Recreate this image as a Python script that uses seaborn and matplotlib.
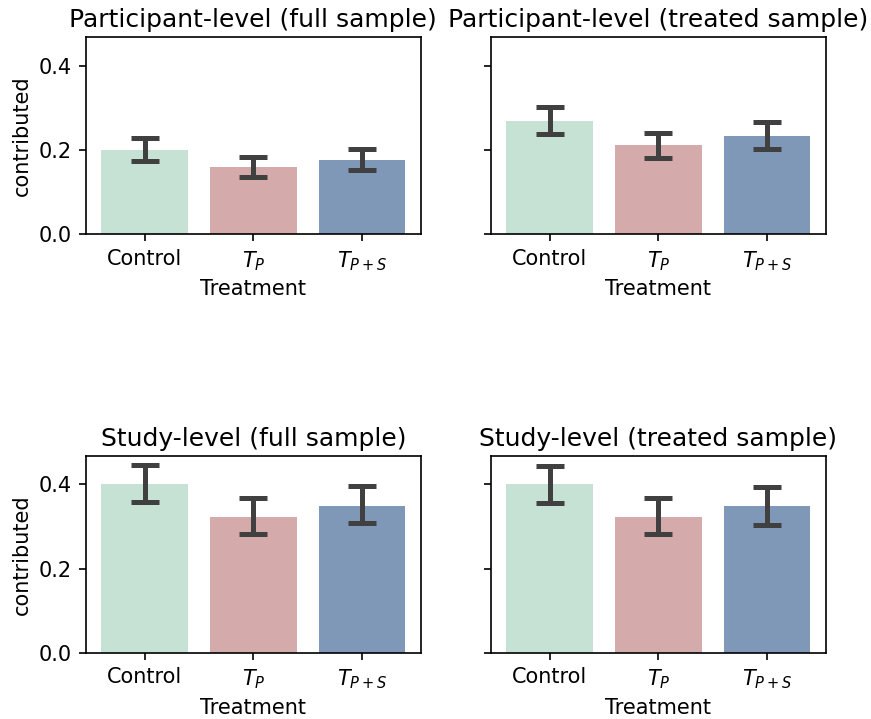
import matplotlib
matplotlib.use("Agg")
import matplotlib.pyplot as plt
import seaborn as sns
import numpy as np
import pandas as pd

plt.rcParams['font.family'] = ['DejaVu Sans']

categories = ["Control", "$T_P$", "$T_{P+S}$"]
colors = ["#c6e2d4", "#d4abaa", "#8098b8"]

titles = ["Participant-level (full sample)", "Participant-level (treated sample)",
          "Study-level (full sample)", "Study-level (treated sample)"]

means = [
    [0.201, 0.160, 0.176],
    [0.269, 0.211, 0.233],
    [0.400, 0.323, 0.349],
    [0.400, 0.323, 0.349],
]
err_low = [
    [0.173, 0.137, 0.153],
    [0.239, 0.182, 0.203],
    [0.359, 0.283, 0.309],
    [0.355, 0.283, 0.304],
]
err_high = [
    [0.229, 0.184, 0.203],
    [0.302, 0.240, 0.266],
    [0.446, 0.367, 0.395],
    [0.444, 0.368, 0.394],
]

DPI = 120
fig, axes = plt.subplots(2, 2, figsize=(871 / DPI, 719 / DPI), dpi=DPI, sharey=True)
fig.subplots_adjust(left=0.0987, right=0.948, top=0.9485, bottom=0.0918,
                    wspace=0.21, hspace=1.12)

for i, ax in enumerate(axes.flat):
    df = pd.DataFrame({"Treatment": categories, "contributed": means[i]})
    sns.barplot(data=df, x="Treatment", y="contributed", hue="Treatment",
                palette=colors, errorbar=None, ax=ax, legend=False,
                saturation=1, width=0.8)
    m = np.array(means[i])
    lo = m - np.array(err_low[i])
    hi = np.array(err_high[i]) - m
    ax.errorbar(np.arange(3), m, yerr=[lo, hi], fmt="none", ecolor="#404040",
                elinewidth=3.0, capsize=8.4, capthick=3.0, zorder=5)
    ax.set_title(titles[i], fontsize=15)
    ax.set_xlabel("Treatment", fontsize=12.5)
    ax.set_ylabel("contributed", fontsize=12.5)
    ax.tick_params(labelsize=12.5, length=4.2, width=1.0, pad=4.5)
    ax.yaxis.set_tick_params(labelleft=(i % 2 == 0))
    for s in ax.spines.values():
        s.set_linewidth(1.0)

axes[0, 0].set_ylim(0, 0.468)
axes[0, 0].set_yticks([0.0, 0.2, 0.4])

fig.savefig("out.png", dpi=DPI)
